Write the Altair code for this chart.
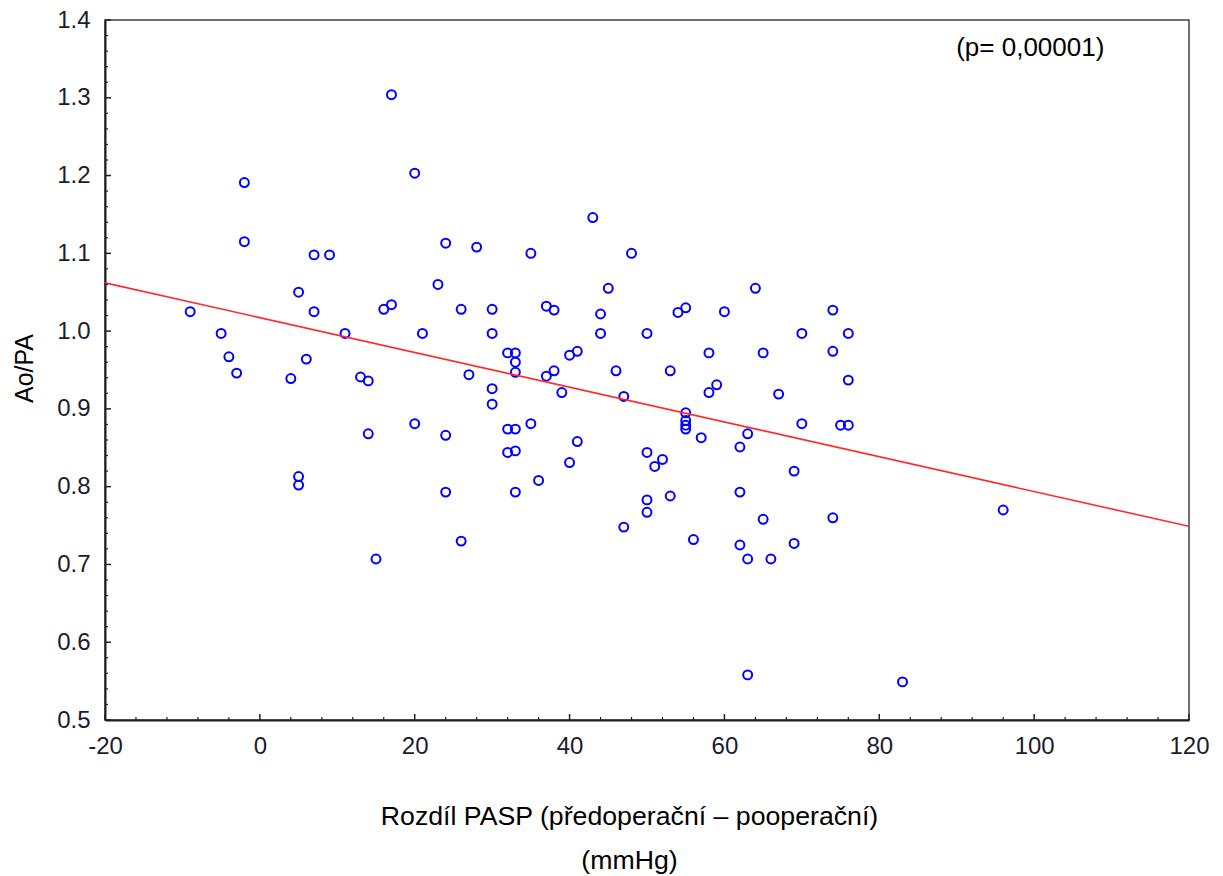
import altair as alt
import pandas as pd

# --- data ---
pasp_diff = [
    -9, -5, -4, -3, -2, -2, 4, 5, 5, 5, 6, 7, 7, 9, 11, 13, 14, 14, 15, 16,
    17, 17, 20, 20, 21, 23, 24, 24, 24, 26, 26, 27, 28, 30, 30, 30, 30, 32, 33, 33,
    33, 32, 33, 32, 33, 33, 35, 35, 36, 37, 38, 37, 38, 39, 40, 41, 40, 41, 43, 44,
    44, 45, 46, 47, 47, 48, 50, 50, 50, 50, 51, 52, 53, 53, 54, 55, 55, 55, 55, 55,
    56, 57, 58, 58, 59, 60, 62, 62, 62, 63, 63, 63, 64, 65, 65, 66, 67, 69, 69, 70,
    70, 74, 74, 74, 75, 76, 76, 76, 83, 96,
]
ao_pa = [
    1.025, 0.997, 0.967, 0.946, 1.191, 1.115, 0.939, 1.050, 0.813, 0.802,
    0.964, 1.098, 1.025, 1.098, 0.997, 0.941, 0.936, 0.868, 0.707, 1.028,
    1.304, 1.034, 1.203, 0.881, 0.997, 1.060, 1.113, 0.866, 0.793, 1.028,
    0.730, 0.944, 1.108, 1.028, 0.997, 0.926, 0.906, 0.972, 0.972, 0.960,
    0.947, 0.874, 0.874, 0.844, 0.846, 0.793, 1.100, 0.881, 0.808, 1.032,
    1.027, 0.942, 0.949, 0.921, 0.969, 0.974, 0.831, 0.858, 1.146, 1.022,
    0.997, 1.055, 0.949, 0.916, 0.748, 1.100, 0.997, 0.844, 0.783, 0.767,
    0.826, 0.835, 0.949, 0.788, 1.024, 1.030, 0.895, 0.885, 0.879, 0.874,
    0.732, 0.863, 0.972, 0.921, 0.931, 1.025, 0.851, 0.793, 0.725, 0.868,
    0.707, 0.558, 1.055, 0.972, 0.758, 0.707, 0.919, 0.820, 0.727, 0.997,
    0.881, 1.027, 0.974, 0.760, 0.879, 0.997, 0.937, 0.879, 0.549, 0.770,
]

fit_x = [-20, 120]
fit_y = [1.062, 0.749]

x_major = [-20, 0, 20, 40, 60, 80, 100, 120]
x_minor = [v for v in range(-16, 120, 4) if v % 20 != 0]
y_major = [0.5, 0.6, 0.7, 0.8, 0.9, 1.0, 1.1, 1.2, 1.3, 1.4]
y_minor = [round(0.5 + 0.02 * i, 2) for i in range(46) if i % 5 != 0]

note_text = ["(p= 0,00001)"]
note_x = [99.5]
note_y = [1.364]

x_title = ["Rozdíl PASP (předoperační – pooperační)", "(mmHg)"]
y_title = "Ao/PA"

# --- tables ---
pts = pd.DataFrame({"x": pasp_diff, "y": ao_pa})
fit = pd.DataFrame({"x": fit_x, "y": fit_y})
xmaj = pd.DataFrame({"x": x_major})
xmin = pd.DataFrame({"x": x_minor})
ymaj = pd.DataFrame({"y": y_major})
ymin = pd.DataFrame({"y": y_minor})
note = pd.DataFrame({"x": note_x, "y": note_y, "t": note_text})

W, H = 1084, 700
FONT = "Liberation Sans"

xs = alt.Scale(domain=[-20, 120], nice=False, zero=False)
ys = alt.Scale(domain=[0.5, 1.4], nice=False, zero=False)

x_axis = alt.Axis(
    values=x_major, labelExpr="'' + datum.value", tickSize=0, grid=False,
    labelFlush=False,
    labelFont=FONT, labelFontSize=24, labelColor="#1c1c2c", labelPadding=14,
    domainColor="#202020", domainWidth=2,
    title=x_title, titleFont=FONT, titleFontSize=26.7, titleFontWeight="normal",
    titleColor="#000000", titleLineHeight=44, titleBaseline="top",
    titleAlign="center", titleX=524, titleY=83,
)
y_axis = alt.Axis(
    values=y_major, format=".1f", tickSize=0, grid=False,
    labelFlush=False,
    labelFont=FONT, labelFontSize=24, labelColor="#1c1c2c", labelPadding=15,
    domainColor="#202020", domainWidth=2,
    title=y_title, titleFont=FONT, titleFontSize=25, titleFontWeight="normal",
    titleColor="#000000", titleAngle=270, titleAlign="center",
    titleBaseline="middle", titleX=-81, titleY=348,
)


def X(field="x"):
    return alt.X(f"{field}:Q", scale=xs, axis=x_axis)


def Y(field="y"):
    return alt.Y(f"{field}:Q", scale=ys, axis=y_axis)


points = alt.Chart(pts).mark_point(
    shape="circle", filled=False, color="#0000ff", size=80, strokeWidth=2, opacity=1
).encode(x=X(), y=Y())

line = alt.Chart(fit).mark_line(color="#ff2a2a", strokeWidth=1.6, clip=True).encode(
    x=X(), y=Y()
)

tick_col = "#202020"
xt_major = alt.Chart(xmaj).mark_rule(color=tick_col, strokeWidth=1.5).encode(
    x=X(), y=alt.value(H), y2=alt.value(H - 6)
)
xt_minor = alt.Chart(xmin).mark_rule(color=tick_col, strokeWidth=1.2).encode(
    x=X(), y=alt.value(H), y2=alt.value(H - 3)
)
yt_major = alt.Chart(ymaj).mark_rule(color=tick_col, strokeWidth=1.5).encode(
    y=Y(), x=alt.value(0), x2=alt.value(6)
)
yt_minor = alt.Chart(ymin).mark_rule(color=tick_col, strokeWidth=1.2).encode(
    y=Y(), x=alt.value(0), x2=alt.value(3)
)

note_mark = alt.Chart(note).mark_text(
    font=FONT, fontSize=26, color="#000000", align="center", baseline="middle"
).encode(x=X(), y=Y(), text="t:N")

chart = alt.layer(
    points, line, xt_minor, xt_major, yt_minor, yt_major, note_mark
).properties(
    width=W, height=H,
    autosize=alt.AutoSizeParams(type="none"),
    padding={"left": 105, "top": 20, "right": 34, "bottom": 156},
    background="#ffffff",
).configure_view(
    stroke="#404040", strokeWidth=1.5
)

chart.save("out.html", embed_options={"renderer": "svg", "actions": False})
